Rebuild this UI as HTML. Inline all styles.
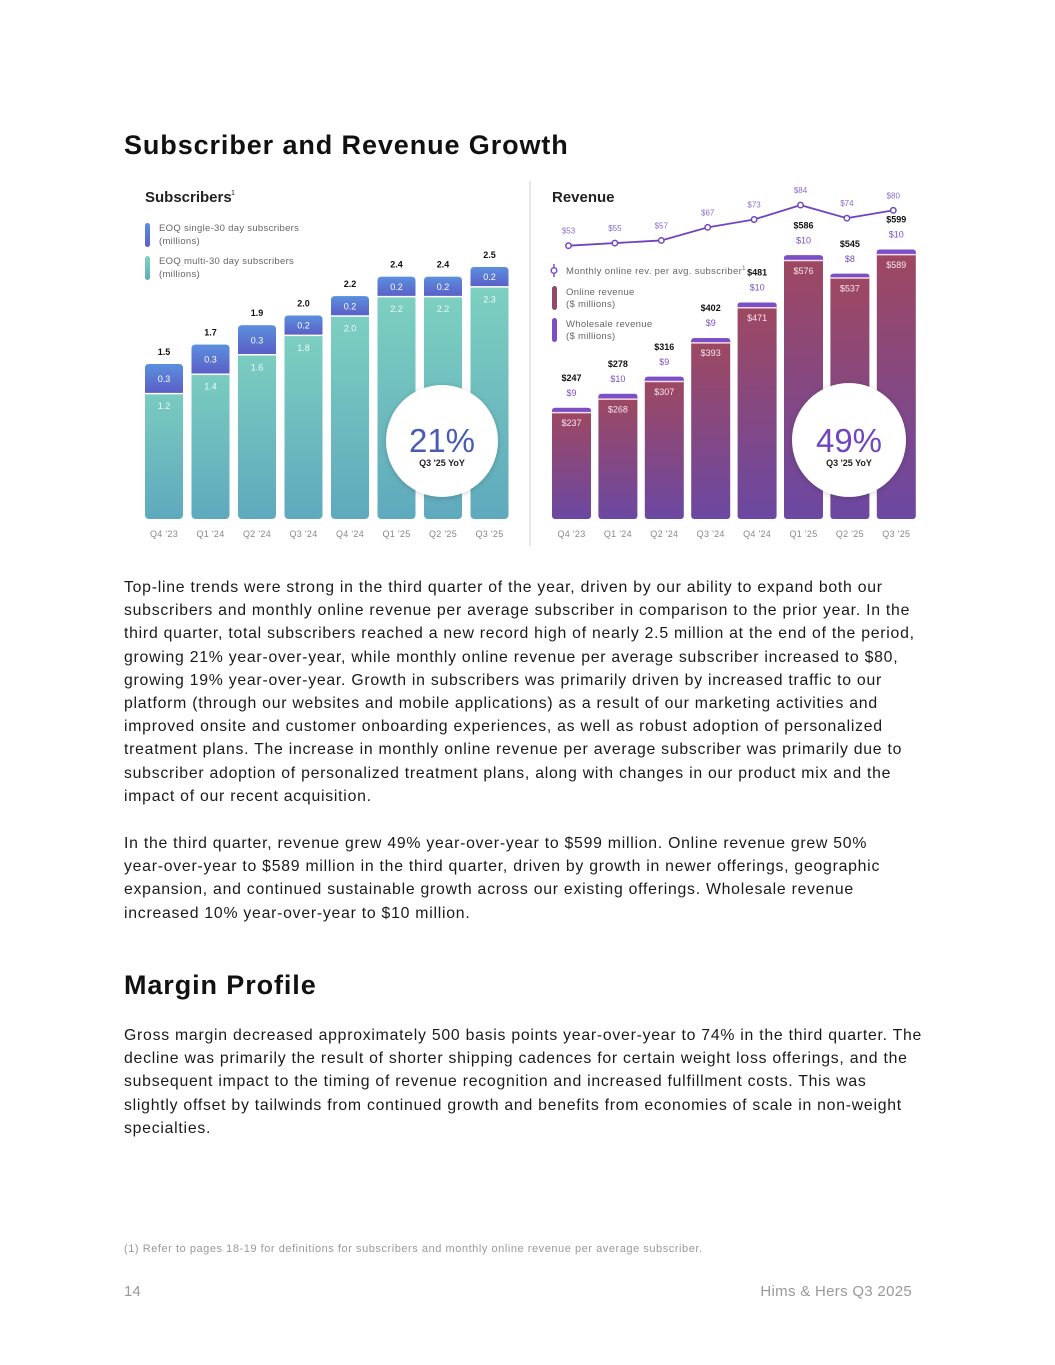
<!DOCTYPE html>
<html><head><meta charset="utf-8">
<style>
html,body{margin:0;padding:0;background:#fff;}
body{width:1055px;height:1365px;position:relative;overflow:hidden;font-family:"Liberation Sans",sans-serif;color:#111;}
.h{position:absolute;left:124px;font-size:27px;font-weight:bold;margin:0;letter-spacing:0.9px;color:#111;}
.p{position:absolute;left:124px;font-size:15.8px;line-height:23.2px;white-space:nowrap;margin:0;color:#1a1a1a;letter-spacing:0.75px;}
#chart{position:absolute;left:0;top:0;}
</style></head>
<body>
<h1 class="h" style="top:130px">Subscriber and Revenue Growth</h1>
<svg id="chart" width="1055" height="560">
<defs>
<linearGradient id="gTeal" x1="0" y1="0" x2="0" y2="1"><stop offset="0" stop-color="#80d3c0"/><stop offset="1" stop-color="#5fa9bd"/></linearGradient>
<linearGradient id="gBlue" x1="0" y1="0" x2="0" y2="1"><stop offset="0" stop-color="#5b90de"/><stop offset="1" stop-color="#5b5ec7"/></linearGradient>
<linearGradient id="gRev" x1="0" y1="0" x2="0" y2="1"><stop offset="0" stop-color="#9f4860"/><stop offset="1" stop-color="#6b48a2"/></linearGradient>
<filter id="sh" x="-20%" y="-20%" width="140%" height="140%"><feDropShadow dx="0" dy="1" stdDeviation="3" flood-opacity="0.18"/></filter>
</defs>
<g id="subs"></g>
<g id="rev"></g>
<line x1="530" y1="181" x2="530" y2="546" stroke="#ccc" stroke-width="1"/>
</svg>

<p class="p" style="top:576px">Top-line trends were strong in the third quarter of the year, driven by our ability to expand both our<br>subscribers and monthly online revenue per average subscriber in comparison to the prior year. In the<br>third quarter, total subscribers reached a new record high of nearly 2.5 million at the end of the period,<br>growing 21% year-over-year, while monthly online revenue per average subscriber increased to $80,<br>growing 19% year-over-year. Growth in subscribers was primarily driven by increased traffic to our<br>platform (through our websites and mobile applications) as a result of our marketing activities and<br>improved onsite and customer onboarding experiences, as well as robust adoption of personalized<br>treatment plans. The increase in monthly online revenue per average subscriber was primarily due to<br>subscriber adoption of personalized treatment plans, along with changes in our product mix and the<br>impact of our recent acquisition.</p>
<p class="p" style="top:832px">In the third quarter, revenue grew 49% year-over-year to $599 million. Online revenue grew 50%<br>year-over-year to $589 million in the third quarter, driven by growth in newer offerings, geographic<br>expansion, and continued sustainable growth across our existing offerings. Wholesale revenue<br>increased 10% year-over-year to $10 million.</p>
<h1 class="h" style="top:970px">Margin Profile</h1>
<p class="p" style="top:1024px">Gross margin decreased approximately 500 basis points year-over-year to 74% in the third quarter. The<br>decline was primarily the result of shorter shipping cadences for certain weight loss offerings, and the<br>subsequent impact to the timing of revenue recognition and increased fulfillment costs. This was<br>slightly offset by tailwinds from continued growth and benefits from economies of scale in non-weight<br>specialties.</p>
<div style="position:absolute;left:124px;top:1243px;font-size:11px;letter-spacing:0.55px;color:#999;white-space:nowrap;">(1) Refer to pages 18-19 for definitions for subscribers and monthly online revenue per average subscriber.</div>
<div style="position:absolute;left:124px;top:1283px;font-size:15px;color:#999;">14</div>
<div style="position:absolute;right:143px;top:1283px;font-size:15px;letter-spacing:0.3px;color:#999;">Hims &amp; Hers Q3 2025</div>

<script>
const quarters = ["Q4 '23","Q1 '24","Q2 '24","Q3 '24","Q4 '24","Q1 '25","Q2 '25","Q3 '25"];
const subMulti = [1.2,1.4,1.6,1.8,2.0,2.2,2.2,2.3];
const subSingle = [0.3,0.3,0.3,0.2,0.2,0.2,0.2,0.2];
const subTotal = [1.5,1.7,1.9,2.0,2.2,2.4,2.4,2.5];
const revOnline = [237,268,307,393,471,576,537,589];
const revWholesale = [9,10,9,9,10,10,8,10];
const revTotal = [247,278,316,402,481,586,545,599];
const arpu = [53,55,57,67,73,84,74,80];

const NS="http://www.w3.org/2000/svg";
function mk(parent,tag,attrs,text){const e=document.createElementNS(NS,tag);for(const k in attrs)e.setAttribute(k,attrs[k]);if(text!==undefined)e.textContent=text;parent.appendChild(e);return e;}
const FONT='"Liberation Sans", sans-serif';

// ---------- Subscribers ----------
const sg=document.getElementById('subs');
const sBottom=519, sX0=145, sPitch=46.5, sW=38;
function sx(i){return sX0+i*sPitch;}
function sh(v){return 97*v;}
let t=mk(sg,'text',{x:145,y:202,'font-size':15,'font-weight':'bold','font-family':FONT,fill:'#222'},'Subscribers');

mk(sg,'text',{x:231,y:195,'font-size':7,'font-family':FONT,fill:'#222'},'1');
let lg=mk(sg,'g',{});

mk(lg,'rect',{x:145,y:223,width:5,height:24,rx:2.5,fill:'url(#gBlue)'});
mk(lg,'text',{x:159,y:231,'font-size':9.5,'letter-spacing':0.3,'font-family':FONT,fill:'#666'},'EOQ single-30 day subscribers');
mk(lg,'text',{x:159,y:244,'font-size':9.5,'letter-spacing':0.3,'font-family':FONT,fill:'#666'},'(millions)');
mk(lg,'rect',{x:145,y:256,width:5,height:24,rx:2.5,fill:'url(#gTeal)'});
mk(lg,'text',{x:159,y:264,'font-size':9.5,'letter-spacing':0.3,'font-family':FONT,fill:'#666'},'EOQ multi-30 day subscribers');
mk(lg,'text',{x:159,y:277,'font-size':9.5,'letter-spacing':0.3,'font-family':FONT,fill:'#666'},'(millions)');
quarters.forEach((q,i)=>{
  const x=sx(i), cx=x+sW/2;
  const top=sBottom-(9.5+97*subTotal[i]);
  const singleH=sh(subSingle[i]);
  const b=mk(sg,'g',{});
  
  mk(b,'rect',{x:x,y:top,width:sW,height:sBottom-top,rx:4,fill:'url(#gTeal)'});
  mk(b,'path',{d:`M${x},${top+singleH} V${top+4} Q${x},${top} ${x+4},${top} H${x+sW-4} Q${x+sW},${top} ${x+sW},${top+4} V${top+singleH} Z`,fill:'url(#gBlue)'});
  mk(b,'line',{x1:x,x2:x+sW,y1:top+singleH+0.5,y2:top+singleH+0.5,stroke:'#fff','stroke-width':1.5});
  mk(b,'text',{x:cx,y:top-9,'font-size':9,'font-weight':'bold','font-family':FONT,'text-anchor':'middle',fill:'#111'},subTotal[i].toFixed(1));
  mk(b,'text',{x:cx,y:top+singleH/2+3.5,'font-size':9,'font-family':FONT,'text-anchor':'middle',fill:'#fff'},subSingle[i].toFixed(1));
  mk(b,'text',{x:cx,y:top+singleH+16,'font-size':9,'font-family':FONT,'text-anchor':'middle',fill:'#eafaf6'},subMulti[i].toFixed(1));
  mk(sg,'text',{x:cx,y:537,'font-size':9,'letter-spacing':0.3,'font-family':FONT,'text-anchor':'middle',fill:'#888'},q);
});
let c1=mk(sg,'g',{});

mk(c1,'circle',{cx:442,cy:441,r:56,fill:'#fff',filter:'url(#sh)'});
mk(c1,'text',{x:442,y:452,'font-size':33,'font-family':FONT,'text-anchor':'middle',fill:'#4a5bb5'},'21%');
mk(c1,'text',{x:442,y:466,'font-size':9,'font-weight':'bold','font-family':FONT,'text-anchor':'middle',fill:'#222'},"Q3 '25 YoY");

// ---------- Revenue ----------
const rg=document.getElementById('rev');
const rBottom=519, rX0=552, rPitch=46.4, rW=39;
function rx(i){return rX0+i*rPitch;}
function rh(v){return 0.45*v;}
function ly(v){return 245.7-(v-53)*1.31;}
t=mk(rg,'text',{x:552,y:202,'font-size':15,'font-weight':'bold','font-family':FONT,fill:'#222'},'Revenue');

lg=mk(rg,'g',{});

mk(lg,'line',{x1:554,x2:554,y1:264,y2:277,stroke:'#7a4fc8','stroke-width':1.5});
mk(lg,'circle',{cx:554,cy:270.5,r:2.8,fill:'#fff',stroke:'#7a4fc8','stroke-width':1.5});
const lt=mk(lg,'text',{x:566,y:274,'font-size':9.5,'letter-spacing':0.35,'font-family':FONT,fill:'#666'},'Monthly online rev. per avg. subscriber');
mk(lt,'tspan',{'font-size':6,dy:-4},'1');
mk(lg,'rect',{x:552,y:286,width:5,height:24,rx:2.5,fill:'#934a6a'});
mk(lg,'text',{x:566,y:295,'font-size':9.5,'letter-spacing':0.3,'font-family':FONT,fill:'#666'},'Online revenue');
mk(lg,'text',{x:566,y:307,'font-size':9.5,'letter-spacing':0.3,'font-family':FONT,fill:'#666'},'($ millions)');
mk(lg,'rect',{x:552,y:318,width:5,height:24,rx:2.5,fill:'#7a4fc8'});
mk(lg,'text',{x:566,y:327,'font-size':9.5,'letter-spacing':0.3,'font-family':FONT,fill:'#666'},'Wholesale revenue');
mk(lg,'text',{x:566,y:339,'font-size':9.5,'letter-spacing':0.3,'font-family':FONT,fill:'#666'},'($ millions)');
quarters.forEach((q,i)=>{
  const x=rx(i), cx=x+rW/2;
  const top=rBottom-rh(revTotal[i]);
  const wh=Math.max(rh(revWholesale[i]),3.5);
  const b=mk(rg,'g',{});
  
  mk(b,'rect',{x:x,y:top,width:rW,height:rBottom-top,rx:3,fill:'url(#gRev)'});
  mk(b,'path',{d:`M${x},${top+wh} V${top+3} Q${x},${top} ${x+3},${top} H${x+rW-3} Q${x+rW},${top} ${x+rW},${top+3} V${top+wh} Z`,fill:'#7a4fc8'});
  mk(b,'line',{x1:x,x2:x+rW,y1:top+wh+0.7,y2:top+wh+0.7,stroke:'#f2dce6','stroke-width':1.5});
  mk(b,'text',{x:cx,y:top-27,'font-size':9,'font-weight':'bold','font-family':FONT,'text-anchor':'middle',fill:'#111'},'$'+revTotal[i]);
  mk(b,'text',{x:cx,y:top-12,'font-size':9,'font-family':FONT,'text-anchor':'middle',fill:'#7a4fc8'},'$'+revWholesale[i]);
  mk(b,'text',{x:cx,y:top+wh+14,'font-size':9,'font-family':FONT,'text-anchor':'middle',fill:'#f6e6ee'},'$'+revOnline[i]);
  mk(rg,'text',{x:cx,y:537,'font-size':9,'letter-spacing':0.3,'font-family':FONT,'text-anchor':'middle',fill:'#888'},q);
});
const pts=arpu.map((v,i)=>(rx(i)+rW/2-3)+','+ly(v)).join(' ');
const pl=mk(rg,'polyline',{points:pts,fill:'none',stroke:'#6f46c0','stroke-width':1.8});

arpu.forEach((v,i)=>{
  const cx=rx(i)+rW/2-3;
  const p=mk(rg,'circle',{cx:cx,cy:ly(v),r:2.7,fill:'#fff',stroke:'#6f46c0','stroke-width':1.5});
  
  mk(rg,'text',{x:cx,y:ly(v)-12,'font-size':8,'font-family':FONT,'text-anchor':'middle',fill:'#8a6ad0'},'$'+v);
});
let c2=mk(rg,'g',{});

mk(c2,'circle',{cx:849,cy:440,r:57,fill:'#fff',filter:'url(#sh)'});
mk(c2,'text',{x:849,y:452,'font-size':33,'font-family':FONT,'text-anchor':'middle',fill:'#6f46c0'},'49%');
mk(c2,'text',{x:849,y:466,'font-size':9,'font-weight':'bold','font-family':FONT,'text-anchor':'middle',fill:'#222'},"Q3 '25 YoY");
</script>
</body></html>
